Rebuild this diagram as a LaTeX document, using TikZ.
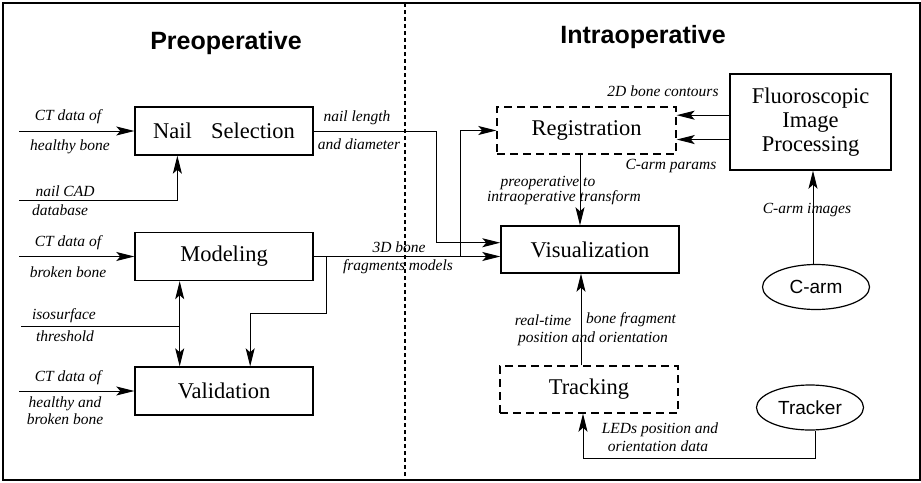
\documentclass[tikz,border=0pt]{standalone}
\usepackage{fontspec}
\setmainfont{Liberation Serif}
\newfontfamily\headfont{Liberation Sans}
\usetikzlibrary{arrows.meta,calc,shapes.geometric}

\begin{document}
\begin{tikzpicture}[x=0.5pt,y=-0.5pt,line width=0.5pt,
    >={Stealth[length=9pt,width=4.5pt,inset=2pt]},
    box/.style={draw,line width=0.7pt,minimum width=89pt,minimum height=24pt,
      inner sep=0pt,font=\fontsize{11.25}{12}\selectfont},
    dbox/.style={box,dash pattern=on 4pt off 2.5pt},
    oval/.style={draw,ellipse,line width=0.6pt,minimum width=53.5pt,
      minimum height=22.5pt,inner sep=0pt,font=\headfont\fontsize{9.5}{11}\selectfont},
    lbl/.style={font=\itshape\fontsize{7.75}{8.5}\selectfont,inner sep=0pt},
    ttl/.style={font=\headfont\bfseries\fontsize{12.5}{14}\selectfont}]
    \useasboundingbox (0,0) rectangle (921,482);
    % --- frame and split ---
    \draw[line width=0.8pt] (3,3) rectangle (920,480);
    \draw[line width=0.6pt,dash pattern=on 2pt off 1.5pt] (405,3) -- (405,480);
    \node[ttl] (pre) at (226,43) {Preoperative};
    \node[ttl] (intra) at (643,37) {Intraoperative};
    % --- blocks ---
    \node[box] (nail) at (224,131) {Nail\hspace{0.85em}Selection};
    \node[box] (model) at (224,256.5) {Modeling};
    \node[box] (valid) at (224,391) {Validation};
    \node[dbox,minimum width=89.5pt,minimum height=23.5pt] (reg) at (586.5,130.5) {Registration};
    \node[box,minimum height=23.5pt] (vis) at (590,249.5) {Visualization};
    \node[dbox,minimum height=23.5pt] (track) at (589,389.5) {Tracking};
    \node[box,minimum width=80.5pt,minimum height=48pt,align=center] (fluoro) at (810.5,122)
      {Fluoroscopic\\Image\\Processing};
    \node[oval] (carm) at (816,287) {C-arm};
    \node[oval] (tracker) at (810,407.5) {Tracker};
    % --- inputs ---
    \coordinate (inA) at (19,131);
    \coordinate (inB) at (19,200);
    \coordinate (inC) at (19,256.5);
    \coordinate (inD) at (21,326);
    \coordinate (inE) at (19,391);
    \draw[->] (inA) -- (nail.west);
    \draw[->] (inB) -| ($(nail.south west)!0.24!(nail.south east)$);
    \draw[->] (inC) -- (model.west);
    \draw[->] (inE) -- (valid.west);
    \coordinate (mv) at ($(model.south west)!0.253!(model.south east)$);
    \draw[<->] (mv) -- (mv |- valid.north);
    \draw (inD) -- (inD -| mv);
    \node[lbl] (ctA1) at (68,117) {CT data of};
    \node[lbl] (ctA2) at (70,147) {healthy bone};
    \node[lbl] (cad1) at (65,191) {nail CAD};
    \node[lbl] (cad2) at (60,210) {database};
    \node[lbl] (ctC1) at (68,243) {CT data of};
    \node[lbl] (ctC2) at (68,272) {broken bone};
    \node[lbl] (iso1) at (64,316) {isosurface};
    \node[lbl] (iso2) at (65,336) {threshold};
    \node[lbl] (ctE1) at (68,378) {CT data of};
    \node[lbl,align=center] (ctE2) at (65,410.5) {healthy and\\broken bone};
    % --- preoperative outputs ---
    \draw[->] (model.east) -- (model.east -| vis.west);
    \draw[->] ($(model.east)+(13,0)$) -- ++(0,57)
      -| ($(valid.north west)!0.646!(valid.north east)$);
    \draw[->] (nail.east) -- ++(123,0) |- ($(vis.north west)!0.36!(vis.south west)$);
    \draw[->] ($(model.east)+(147,0)$) |- (reg.west);
    \node[lbl] (len1) at (357,118) {nail length};
    \node[lbl] (len2) at (359,144) {and diameter};
    \node[lbl] (frag1) at (399,247) {3D bone};
    \node[lbl] (frag2) at (398,267) {fragments models};
    % --- intraoperative links ---
    \coordinate (fa) at ($(fluoro.north west)!0.43!(fluoro.south west)$);
    \coordinate (fb) at ($(fluoro.north west)!0.68!(fluoro.south west)$);
    \draw[->] (fa) -- (fa -| reg.east);
    \draw[->] (fb) -- (fb -| reg.east);
    \draw[->] ([xshift=-3.25pt]reg.south) -- ([xshift=-3.25pt]reg.south |- vis.north);
    \draw[->] ([xshift=-1.5pt]carm.north) -- ([xshift=-1.5pt]carm.north |- fluoro.south);
    \draw[->] ([xshift=-4pt]track.north) -- ([xshift=-4pt]track.north |- vis.south);
    \draw[->] ([xshift=2.5pt]tracker.south) -- ++(0,28) -| ([xshift=-3pt]track.south);
    \node[lbl] (cont) at (663,91) {2D bone contours};
    \node[lbl] (par) at (671,166) {C-arm params};
    \node[lbl] (tr1) at (548,183) {preoperative to};
    \node[lbl] (tr2) at (564,198) {intraoperative transform};
    \node[lbl] (img) at (807,210) {C-arm images};
    \node[lbl] (rt1) at (543,320) {real-time};
    \node[lbl] (rt2) at (631,320) {bone fragment};
    \node[lbl] (rt3) at (593,339) {position and orientation};
    \node[lbl] (led1) at (660,430) {LEDs position and};
    \node[lbl] (led2) at (658,446) {orientation data};
\end{tikzpicture}
\end{document}
